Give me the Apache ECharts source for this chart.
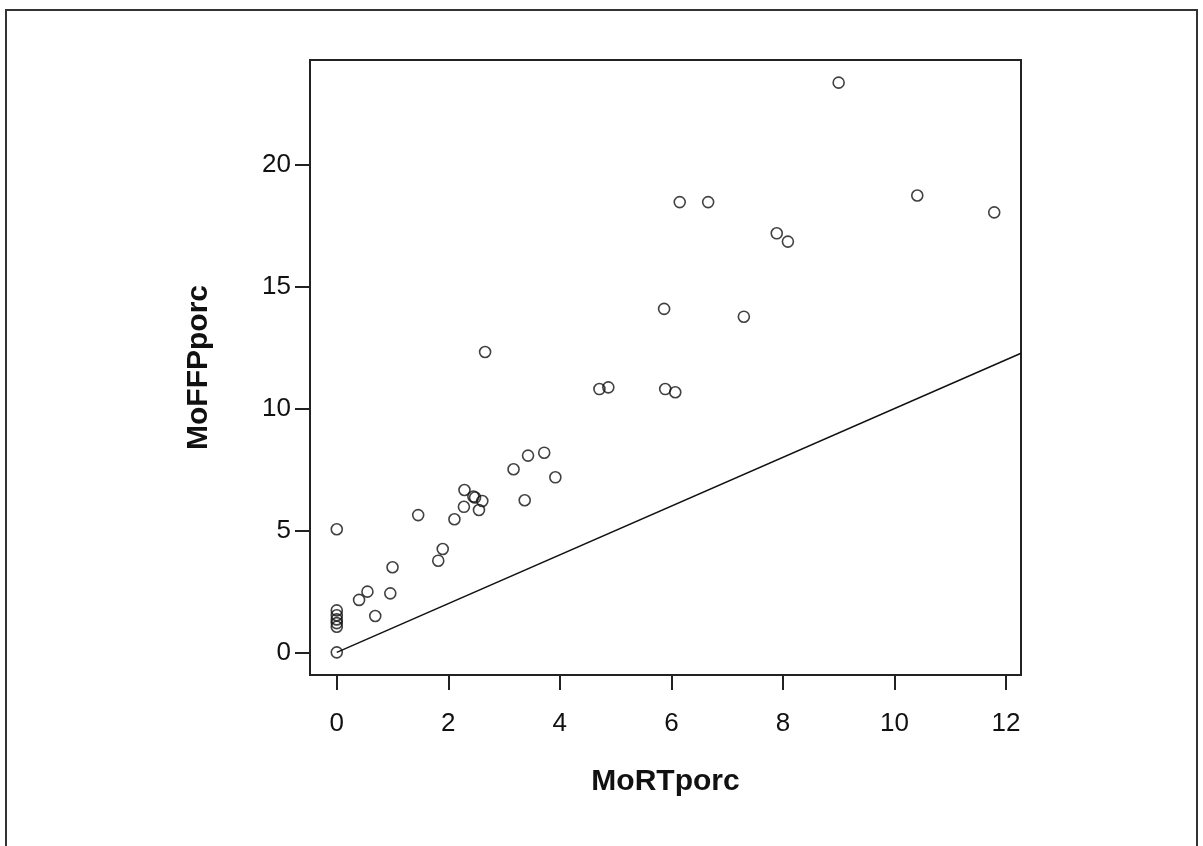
<!DOCTYPE html>
<html>
<head>
<meta charset="utf-8">
<script src="https://cdn.jsdelivr.net/npm/echarts@6/dist/echarts.min.js"></script>
<style>
  html, body { margin: 0; padding: 0; background: #fff; }
  #main { width: 1203px; height: 846px; }
</style>
</head>
<body>
<div id="main"></div>
<script>
// MoRTporc (x) vs MoFFPporc (y)
const pointsX = [0, 0, 0, 0, 0, 0, 0,
  0.40, 0.55, 0.69, 0.96, 1.00, 1.46,
  1.82, 1.90, 2.11, 2.28, 2.29, 2.45, 2.48, 2.55, 2.61, 2.66,
  3.17, 3.37, 3.43, 3.72, 3.92,
  4.71, 4.87, 5.87, 5.89, 6.07, 6.15, 6.66, 7.30,
  7.89, 8.09, 9.00, 10.41, 11.79]
const pointsY = [0, 5.05, 1.72, 1.52, 1.35, 1.2, 1.05,
  2.15, 2.49, 1.49, 2.42, 3.49, 5.63,
  3.76, 4.24, 5.46, 5.97, 6.66, 6.39, 6.35, 5.84, 6.21, 12.32,
  7.51, 6.24, 8.07, 8.19, 7.18,
  10.80, 10.87, 14.09, 10.80, 10.67, 18.47, 18.47, 13.77,
  17.19, 16.85, 23.37, 18.74, 18.05]

// reference line y = x
const refLine = [[0, 0], [12.27, 12.27]]

const xTicks = [0, 2, 4, 6, 8, 10, 12]
const yTicks = [0, 5, 10, 15, 20]

const axisColor = '#222'
const fontFamily = '"Liberation Sans", Arial, sans-serif'

const chart = echarts.init(document.getElementById('main'))

const option = {
  backgroundColor: '#fff',
  animation: false,
  grid: {
    left: 310,
    top: 60,
    width: 711,
    height: 615,
    show: true,
    borderColor: axisColor,
    borderWidth: 2,
    backgroundColor: 'transparent'
  },
  graphic: [
    {
      type: 'polyline',
      shape: { points: [[6, 846], [6, 10], [1197, 10], [1197, 846]] },
      style: { stroke: '#333', lineWidth: 2, fill: null }
    }
  ],
  xAxis: {
    type: 'value',
    min: -0.48,
    max: 12.27,
    name: 'MoRTporc',
    nameLocation: 'middle',
    nameGap: 92,
    nameTextStyle: { fontFamily, fontSize: 30, fontWeight: 'bold', color: '#111' },
    splitLine: { show: false },
    axisLine: { show: true, onZero: false, lineStyle: { color: axisColor, width: 2 } },
    axisTick: { show: true, inside: false, length: 15, customValues: xTicks, lineStyle: { color: axisColor, width: 2 } },
    axisLabel: { customValues: xTicks, margin: 36, fontFamily, fontSize: 26, color: '#111' }
  },
  yAxis: {
    type: 'value',
    min: -0.93,
    max: 24.3,
    name: 'MoFFPporc',
    nameLocation: 'middle',
    nameGap: 96,
    nameTextStyle: { fontFamily, fontSize: 30, fontWeight: 'bold', color: '#111' },
    splitLine: { show: false },
    axisLine: { show: true, onZero: false, lineStyle: { color: axisColor, width: 2 } },
    axisTick: { show: true, inside: false, length: 15, customValues: yTicks, lineStyle: { color: axisColor, width: 2 } },
    axisLabel: { customValues: yTicks, margin: 19, fontFamily, fontSize: 26, color: '#111' }
  },
  series: [
    {
      type: 'line',
      data: refLine,
      symbol: 'none',
      clip: true,
      lineStyle: { color: '#111', width: 1.5 },
      z: 1
    },
    {
      type: 'scatter',
      data: pointsX.map((x, i) => [x, pointsY[i]]),
      symbol: 'circle',
      symbolSize: 11,
      itemStyle: { color: 'rgba(0,0,0,0)', borderColor: '#111', borderWidth: 1.6 },
      z: 2
    }
  ]
}

chart.setOption(option)
</script>
</body>
</html>
